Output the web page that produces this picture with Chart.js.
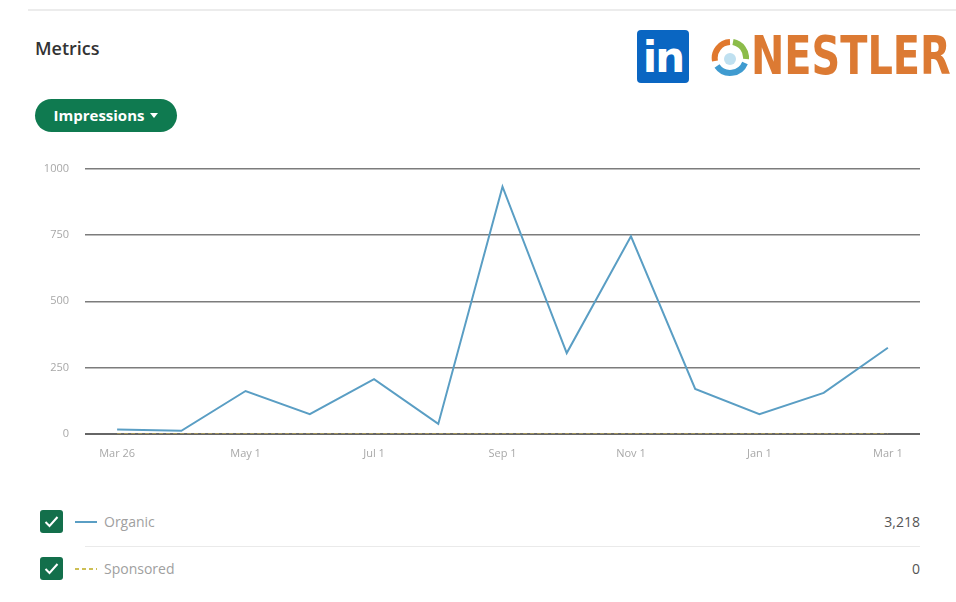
<!DOCTYPE html>
<html>
<head>
<meta charset="utf-8">
<script src="https://cdn.jsdelivr.net/npm/chart.js@4"></script>
<style>
  html,body{margin:0;padding:0;background:#fff;width:956px;height:602px;overflow:hidden;font-family:"Open Sans","Noto Sans",sans-serif;}
  .abs{position:absolute;}
  #topline{left:28px;top:9px;width:928px;height:2px;background:#ececec;}
  #title{left:35px;top:36px;font-size:18px;color:#333;font-weight:600;}
  #btn{left:35px;top:99px;width:142px;height:33px;border-radius:17px;background:#0f7a50;color:#fff;font-weight:700;font-size:15px;line-height:33px;text-align:center;}
  #btn .car{display:inline-block;width:0;height:0;border-left:4px solid transparent;border-right:4px solid transparent;border-top:5px solid #fff;vertical-align:middle;margin-left:6px;margin-top:-2px;}
  #li{left:637px;top:30px;width:52px;height:53px;background:#0a66c2;border-radius:4px;color:#fff;font-family:"DejaVu Sans",sans-serif;font-weight:700;font-size:42px;line-height:56px;text-align:center;letter-spacing:-2px;}
  #nest{left:751px;top:26px;font-family:"DejaVu Sans Condensed","DejaVu Sans",sans-serif;font-weight:700;font-size:54px;color:#dc7a33;transform-origin:0 0;transform:scaleX(0.82);line-height:60px;}
  #icon{left:711px;top:39px;}
  #cv{left:20px;top:146px;width:920px;height:319px;}
  .cb{left:40px;width:23px;height:23px;}
  .lg{left:104px;font-size:14px;color:#a0a0a0;}
  .val{right:36px;font-size:14px;color:#555;font-weight:500;}
  #sep{left:85px;top:546px;width:835px;height:1px;background:#eaeaea;}
</style>
</head>
<body>
<div id="topline" class="abs"></div>
<div id="title" class="abs">Metrics</div>
<div id="btn" class="abs">Impressions<span class="car"></span></div>
<div id="li" class="abs">in</div>
<svg id="icon" class="abs" width="38" height="38" viewBox="0 0 38 38">
  <path d="M19 3 A16 16 0 0 0 4 22" stroke="#e0782e" stroke-width="6" fill="none"/>
  <path d="M22 3 A16 16 0 0 1 35 20" stroke="#8cbc4a" stroke-width="6" fill="none"/>
  <path d="M34 24 A16 16 0 0 1 6 27" stroke="#3f9bd0" stroke-width="6" fill="none"/>
  <circle cx="19" cy="20" r="6" fill="#bfe0f0"/>
</svg>
<div id="nest" class="abs">NESTLER</div>

<canvas id="cv" class="abs" width="920" height="319"></canvas>

<svg class="abs cb" style="top:510px" viewBox="0 0 23 23"><rect width="23" height="23" rx="3" fill="#136f4b"/><path d="M5.5 12 L9.5 16 L17.5 7" stroke="#fff" stroke-width="2" fill="none"/></svg>
<svg class="abs" style="left:75px;top:520px" width="22" height="4"><line x1="0" y1="2" x2="22" y2="2" stroke="#5a9ec4" stroke-width="2"/></svg>
<div class="abs lg" style="top:512px">Organic</div>
<div class="abs val" style="top:512px">3,218</div>
<div id="sep" class="abs"></div>
<svg class="abs cb" style="top:557px" viewBox="0 0 23 23"><rect width="23" height="23" rx="3" fill="#136f4b"/><path d="M5.5 12 L9.5 16 L17.5 7" stroke="#fff" stroke-width="2" fill="none"/></svg>
<svg class="abs" style="left:75px;top:567px" width="22" height="4"><line x1="0" y1="2" x2="22" y2="2" stroke="#cdbf55" stroke-width="2" stroke-dasharray="4,3"/></svg>
<div class="abs lg" style="top:559px">Sponsored</div>
<div class="abs val" style="top:559px">0</div>

<script>
const categories = ["Mar 26","Apr 26","May 1","Jun 1","Jul 1","Aug 1","Sep 1","Oct 1","Nov 1","Dec 1","Jan 1","Feb 1","Mar 1"];
const tickLabels = ["Mar 26","","May 1","","Jul 1","","Sep 1","","Nov 1","","Jan 1","","Mar 1"];
const organic = [17,12,162,75,207,38,932,305,745,170,75,155,325];
const sponsored = [0,0,0,0,0,0,0,0,0,0,0,0,0];
const yTicks = [0,250,500,750,1000];

const tickFont = {family:"'Open Sans','Noto Sans',sans-serif", size:11};
new Chart(document.getElementById('cv'), {
  type:'line',
  data:{
    labels:categories,
    datasets:[
      {label:'Sponsored',data:sponsored,borderColor:'#b5a256',borderWidth:1.5,borderDash:[4,3],pointRadius:0,tension:0,order:2},
      {label:'Organic',data:organic,borderColor:'#5a9ec4',borderWidth:2,pointRadius:0,tension:0,order:1}
    ]
  },
  options:{
    responsive:false,animation:false,
    layout:{padding:{top:4,right:20,left:0,bottom:0}},
    plugins:{legend:{display:false},tooltip:{enabled:false}},
    scales:{
      x:{offset:true,grid:{display:false},border:{display:false},
         ticks:{autoSkip:false,maxRotation:0,color:'#a8a8a8',font:tickFont,padding:5,callback:(v,i)=>tickLabels[i]},
         afterFit:(s)=>{s.height=31;}},
      y:{min:0,max:1000,border:{display:false},
         grid:{color:(c)=>c.tick && c.tick.value===0 ? '#666' : '#7c7c7c',lineWidth:(c)=>c.tick && c.tick.value===0 ? 2 : 1.5,drawTicks:false},
         afterBuildTicks:(s)=>{s.ticks=yTicks.map(v=>({value:v}));},
         ticks:{color:'#a8a8a8',font:tickFont,padding:16,callback:(v)=>String(v)},
         afterFit:(s)=>{s.width=65;}}
    }
  }
});
</script>
</body>
</html>
